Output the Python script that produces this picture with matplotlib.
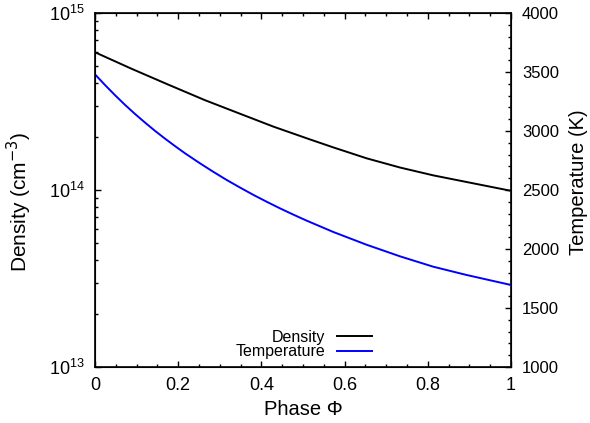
import matplotlib
matplotlib.use("Agg")
import numpy as np
import matplotlib.pyplot as plt
from matplotlib.ticker import MultipleLocator, LogLocator, NullFormatter, FuncFormatter

# phase values and curves
phase_n = [0, 0.088, 0.176, 0.264, 0.341, 0.429, 0.517, 0.573, 0.653, 0.733, 0.813, 0.893, 0.99, 1.0]
density = [6.00e14, 4.84e14, 3.94e14, 3.22e14, 2.74e14, 2.28e14, 1.93e14,
           1.74e14, 1.51e14, 1.34e14, 1.21e14, 1.11e14, 1.00e14, 0.99e14]
phase_t = [0, 0.024, 0.048, 0.072, 0.096, 0.12, 0.144, 0.168, 0.192, 0.216, 0.252,
           0.284, 0.317, 0.349, 0.381, 0.413, 0.445, 0.477, 0.509, 0.573, 0.653,
           0.733, 0.813, 0.893, 0.99, 1.0]
temperature = [3480, 3390, 3304, 3222, 3145, 3072, 3002, 2936, 2873, 2812, 2727,
               2655, 2584, 2520, 2458, 2400, 2344, 2291, 2240, 2144, 2036,
               1938, 1850, 1780, 1703, 1695]

plt.rcParams['font.family'] = ['Liberation Sans', 'DejaVu Sans']
plt.rcParams['font.size'] = 12

fig = plt.figure(figsize=(5.9, 4.23), dpi=100)
ax = fig.add_axes([95 / 590, 1 - 367 / 423, 416 / 590, 354 / 423])
ax2 = ax.twinx()

l1, = ax.plot(phase_n, density, color='black', lw=1.4, label='Density')
l2, = ax2.plot(phase_t, temperature, color='#0000ff', lw=1.4, label='Temperature')

ax.set_xlim(0, 1)
ax.set_yscale('log')
ax.set_ylim(1e13, 1e15)
ax2.set_ylim(1000, 4000)

ax.xaxis.set_major_locator(MultipleLocator(0.2))
ax.xaxis.set_minor_locator(MultipleLocator(0.05))
ax.xaxis.set_major_formatter(FuncFormatter(lambda v, p: f"{v:g}"))
ax.yaxis.set_major_locator(LogLocator(base=10))
ax.yaxis.set_minor_locator(LogLocator(base=10, subs=np.arange(2, 10)))
ax.yaxis.set_minor_formatter(NullFormatter())
ax2.yaxis.set_major_locator(MultipleLocator(500))
ax2.yaxis.set_minor_locator(MultipleLocator(100))

ax.tick_params(which='both', direction='in', top=True, right=False, width=1)
ax.tick_params(which='major', length=4.5, pad=7.5, labelsize=13)
ax.tick_params(which='minor', length=2.2)
ax2.tick_params(which='both', direction='in', width=1)
ax2.tick_params(which='major', length=4.5, pad=8)
ax2.tick_params(which='minor', length=2.2)
for sp in ax.spines.values():
    sp.set_linewidth(1.2)

ax.set_xlabel('Phase Φ', fontsize=14.5, labelpad=4)
ax.set_ylabel('Density (cm$^{-3}$)', fontsize=15)
ax2.set_ylabel('Temperature (K)', fontsize=14.5)
ax.yaxis.set_label_coords(-0.147, 0.466)
ax2.yaxis.set_label_coords(1.14, 0.523)

ax.legend([l1, l2], ['Density', 'Temperature'], loc='lower right',
          bbox_to_anchor=(0.69, -0.005), frameon=False, markerfirst=False,
          fontsize=11.5, handlelength=2.2, handletextpad=0.75, labelspacing=-0.05,
          borderaxespad=0.2)

fig.savefig('out.png', dpi=100)
